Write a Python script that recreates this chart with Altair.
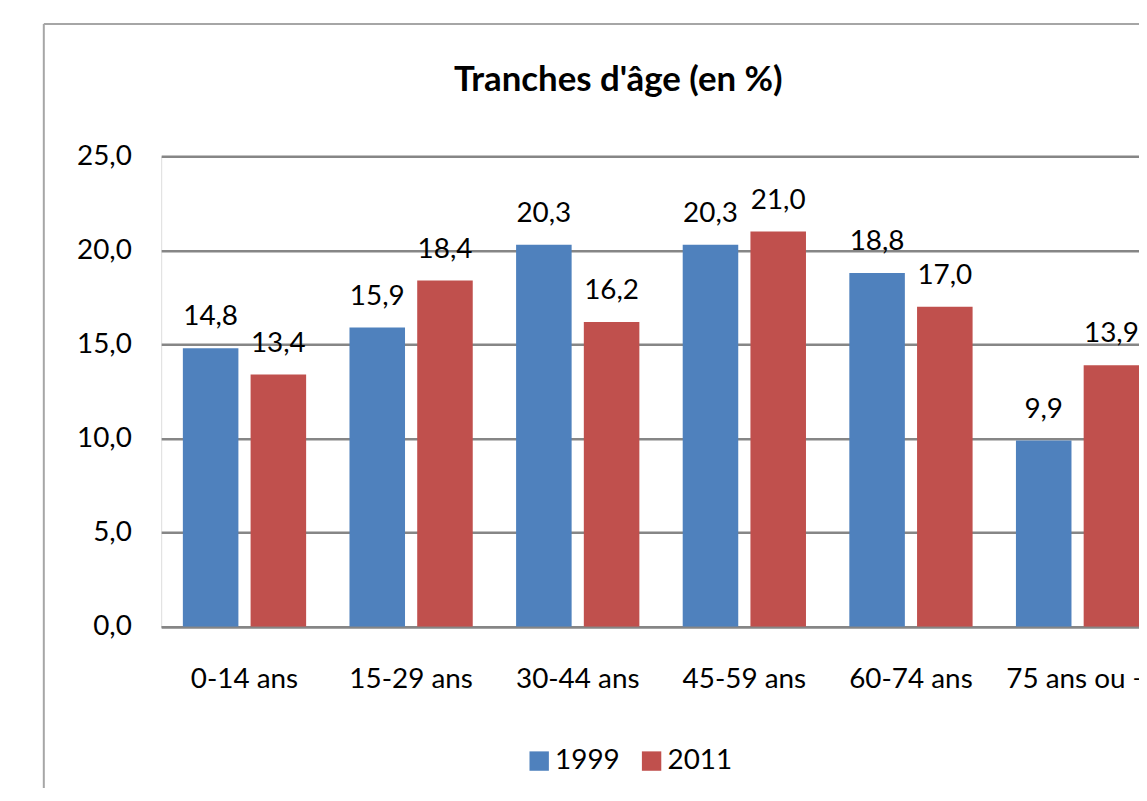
import altair as alt
import pandas as pd

categories = ["0-14 ans", "15-29 ans", "30-44 ans", "45-59 ans", "60-74 ans", "75 ans ou +"]
values_1999 = [14.8, 15.9, 20.3, 20.3, 18.8, 9.9]
values_2011 = [13.4, 18.4, 16.2, 21.0, 17.0, 13.9]
years = ["1999", "2011"]
colors = ["#4F81BD", "#C0504D"]

rows = []
for c, v1, v2 in zip(categories, values_1999, values_2011):
    rows.append({"cat": c, "year": years[0], "value": v1})
    rows.append({"cat": c, "year": years[1], "value": v2})
df = pd.DataFrame(rows)

FONT = "Lato"
FS = 28

xscale = alt.Scale(range=[0, 1005], paddingInner=0, paddingOuter=0)
yscale = alt.Scale(domain=[0, 25], nice=False)
offscale = alt.Scale(paddingInner=0.18, paddingOuter=0.32)

xenc = alt.X("cat:N", sort=categories, title=None, scale=xscale,
             axis=alt.Axis(labelAngle=0, ticks=False, domainColor="#868686", domainWidth=2.5,
                           labelFontSize=FS, labelFont=FONT, labelColor="#000000",
                           labelPadding=39, labelOverlap=False))
xoff = alt.XOffset("year:N", sort=years, scale=offscale)
yenc = alt.Y("value:Q", title=None, scale=yscale,
             axis=alt.Axis(values=[0, 5, 10, 15, 20, 25], domain=False, ticks=False,
                           gridColor="#868686", gridWidth=2.5,
                           labelExpr="replace(format(datum.value, '.1f'), '.', ',')",
                           labelFontSize=FS, labelFont=FONT, labelColor="#000000",
                           labelPadding=30))

bars = alt.Chart(df).mark_bar(clip=True).encode(
    x=xenc, xOffset=xoff, y=yenc,
    color=alt.Color("year:N", sort=years, scale=alt.Scale(domain=years, range=colors),
                    legend=alt.Legend(title=None, orient="none", direction="horizontal",
                                      legendX=366, legendY=594, padding=0,
                                      symbolType="square", symbolSize=380, symbolStrokeWidth=0,
                                      symbolOpacity=1,
                                      labelFontSize=FS, labelFont=FONT, labelColor="#000000",
                                      labelOffset=2, columnPadding=18)),
)

labels = alt.Chart(df).transform_calculate(
    lbl="replace(format(datum.value, '.1f'), '.', ',')"
).mark_text(baseline="alphabetic", dy=-23, fontSize=FS, font=FONT, color="#000000",
            clip=False).encode(
    x=xenc, xOffset=xoff, y=yenc, text="lbl:N",
)

frame_df = pd.DataFrame({"k": [0]})
frame_v = alt.Chart(frame_df).mark_rule(color="#A6A6A6", strokeWidth=2, clip=False).encode(
    x=alt.value(-118), y=alt.value(-133), y2=alt.value(700))
frame_h = alt.Chart(frame_df).mark_rule(color="#A6A6A6", strokeWidth=2, clip=False).encode(
    x=alt.value(-118), x2=alt.value(1100), y=alt.value(-133))

chart = alt.layer(frame_v, frame_h, bars, labels).properties(
    width=983, height=473,
    title=alt.TitleParams("Tranches d'âge (en %)", font=FONT, fontSize=35, fontWeight="bold",
                          color="#000000", anchor="middle", frame="group", dx=-32,
                          baseline="alphabetic", offset=-103),
    autosize=alt.AutoSizeParams(type="none"),
    padding={"left": 154, "top": 147, "right": 0, "bottom": 160},
).configure_view(stroke=None).configure(background="#FFFFFF")

chart.save("out.html", embed_options={"renderer": "svg", "actions": False})
